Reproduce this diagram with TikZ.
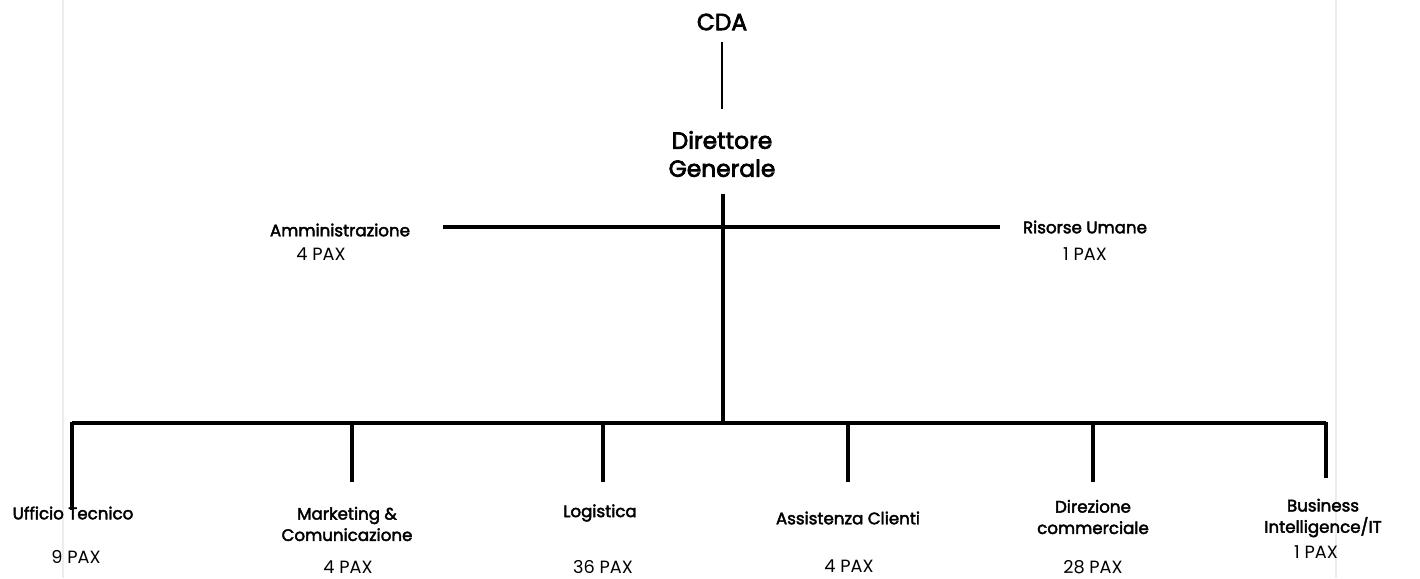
\documentclass[tikz,border=0pt]{standalone}
\usepackage{fontspec}
\setmainfont{Poppins}
\newfontfamily\medfont[FakeBold=3]{Poppins}
\newfontfamily\unitfont[FakeBold=2.5]{Poppins}
\begin{document}
\begin{tikzpicture}[x=0.75pt,y=-0.75pt,
  title/.style={font=\medfont\fontsize{17.5}{21}\selectfont, align=center, inner sep=0pt},
  unit/.style={font=\unitfont\fontsize{12.5}{16}\selectfont, align=center, inner sep=0pt},
  pax/.style={font=\fontsize{13.3}{15}\selectfont, inner sep=0pt},
  conn/.style={line width=3pt, black},
  thin/.style={line width=2.2pt, black},
  frame/.style={line width=1.5pt, black!7}]
\useasboundingbox (0,0) rectangle (1420,578);
\draw[frame] (63,0) -- (63,578);
\draw[frame] (1336,0) -- (1336,578);

\node[title] (cda) at (722,22) {CDA};
\node[title] (dg) at (722,154) {Direttore\\Generale};
\coordinate (cdaB) at (722,42);
\coordinate (dgT) at (722,109);
\draw[thin] (cdaB) -- (dgT);

\coordinate (dgB) at (723,194);
\coordinate (hub) at (723,423);
\draw[conn] (dgB) -- (hub);

\coordinate (sl) at (443,227);
\coordinate (sr) at (1000,227);
\draw[conn] (sl) -- (sr);
\node[unit] (amm) at (340,230) {Amministrazione};
\node[pax] (ammp) at (321,254) {4 PAX};
\node[unit] (ris) at (1085,227) {Risorse Umane};
\node[pax] (risp) at (1085,254) {1 PAX};

\coordinate (bl) at (72,423);
\coordinate (br) at (1326,423);
\draw[conn] (bl) -- (br);

\foreach \n/\x/\y in {d1/72/510, d2/352/482, d3/603/482, d4/848/482, d5/1093/482, d6/1326/478}{
  \coordinate (\n t) at (\x,421.5);
  \coordinate (\n b) at (\x,\y);
  \draw[conn] (\n t) -- (\n b);
}

\node[unit] (u1) at (73,513) {Ufficio Tecnico};
\node[pax] (p1) at (76,557) {9 PAX};
\node[unit] (u2) at (347,524) {Marketing \&\\Comunicazione};
\node[pax] (p2) at (348,567) {4 PAX};
\node[unit] (u3) at (600,513) {Logistica};
\node[pax] (p3) at (603,567) {36 PAX};
\node[unit] (u4) at (848,518) {Assistenza Clienti};
\node[pax] (p4) at (849,566) {4 PAX};
\node[unit] (u5) at (1093,517) {Direzione\\commerciale};
\node[pax] (p5) at (1093,567) {28 PAX};
\node[unit] (u6) at (1323,518) {Business\\Intelligence/IT};
\node[pax] (p6) at (1316,552) {1 PAX};
\end{tikzpicture}
\end{document}
